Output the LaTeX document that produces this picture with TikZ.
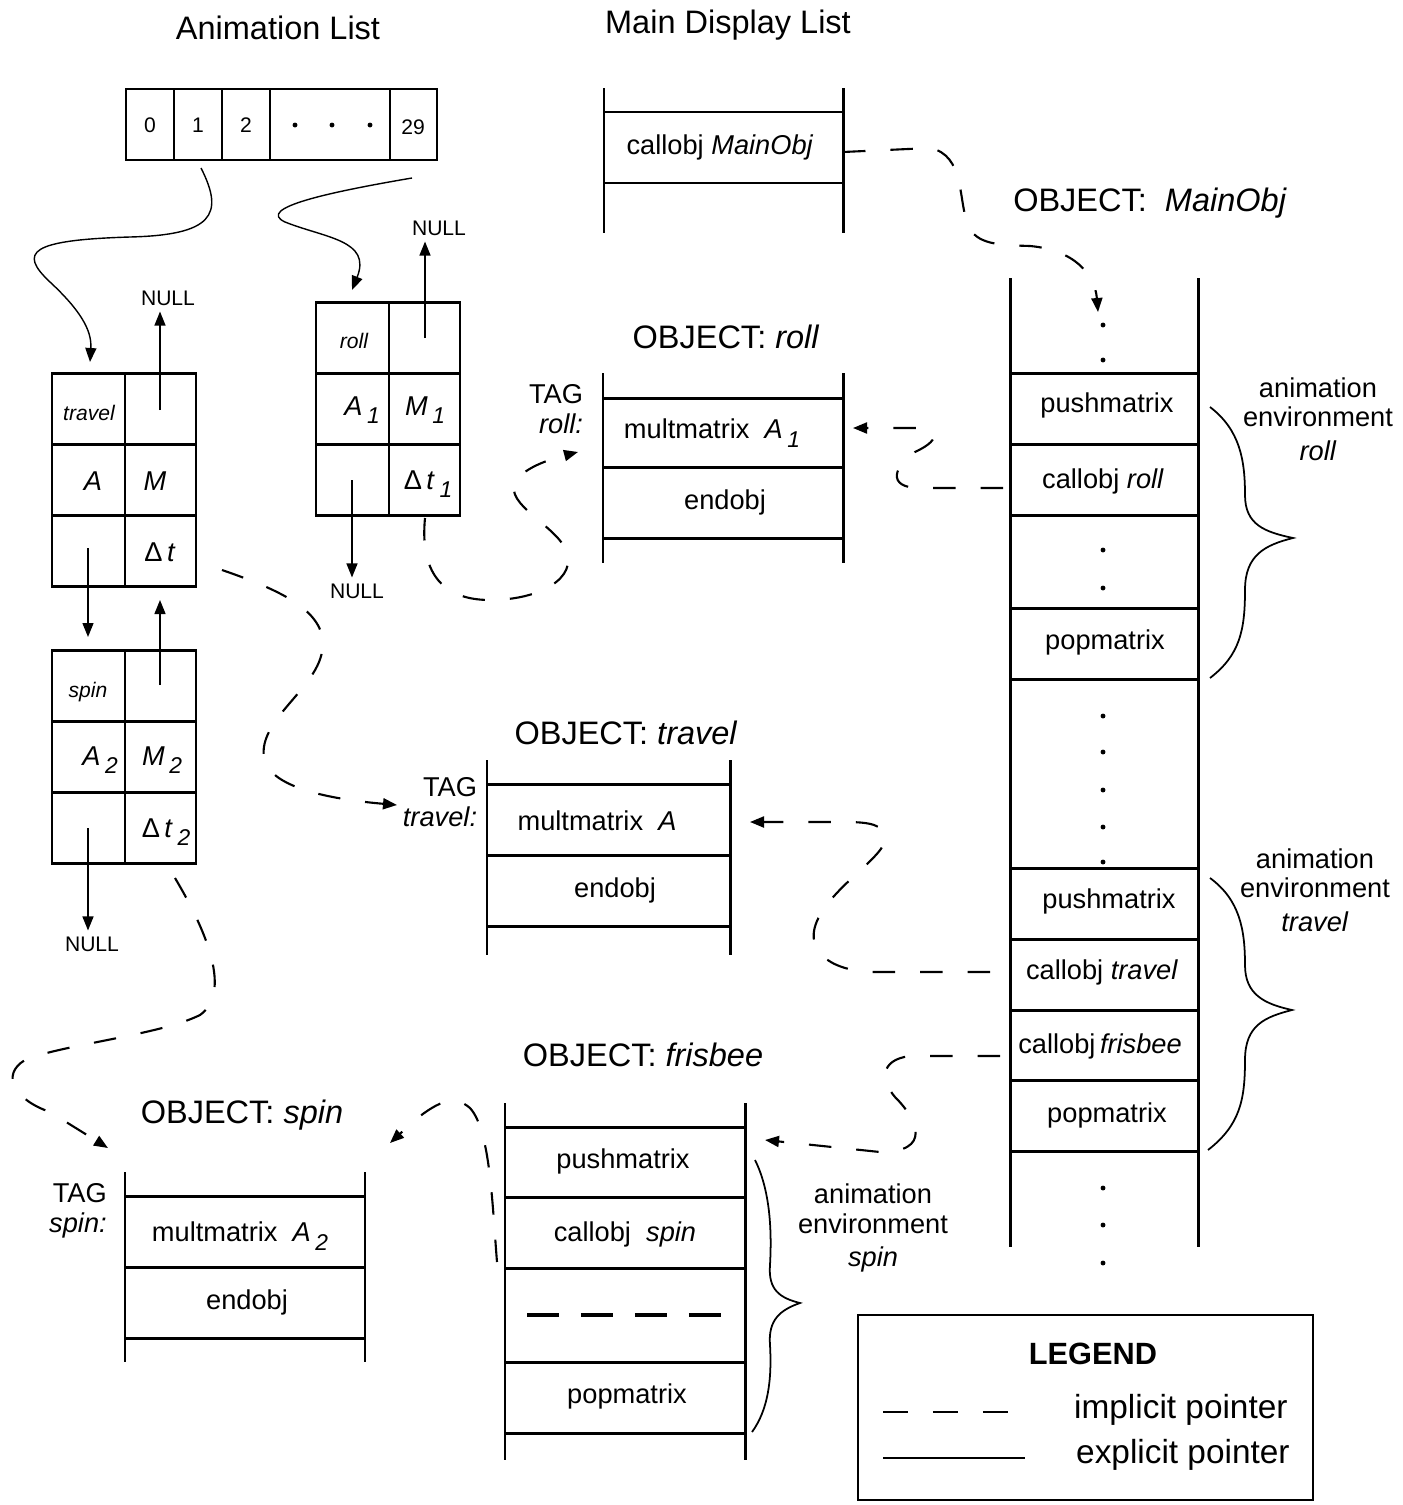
\documentclass[tikz,border=0pt]{standalone}
\usepackage{fontspec}
\setmainfont{Liberation Sans}
\usetikzlibrary{arrows.meta}

\newcommand{\lowsub}[1]{\,\raisebox{-0.6ex}{\fontsize{13}{14}\selectfont #1}}

\tikzset{
  ttl/.style={font=\fontsize{18.5}{20}\selectfont},
  txt/.style={font=\fontsize{15.5}{17}\selectfont},
  sml/.style={font=\fontsize{12}{13}\selectfont},
  sit/.style={font=\fontsize{12}{13}\selectfont\itshape},
  ladder/.style={line width=1.7pt},
  tip/.style={-{Triangle[length=0.28cm,width=0.22cm]}},
  ptr/.style={tip,line width=0.8pt},
  implicit/.style={line width=1.2pt,dash pattern=on 0.45cm off 0.5cm},
  dptr/.style={tip,implicit},
}

\begin{document}
\begin{tikzpicture}[x=0.02cm,y=-0.02cm]
    \useasboundingbox (0,0) rectangle (1403,1505);

    % titles
    \node[ttl] (animtitle) at (278,28) {Animation List};
    \node[ttl] (maintitle) at (728,25) {Main Display List};

    % animation list array
    \draw[ladder] (126,89) rectangle (437,160);
    \foreach \x in {174,222,270,390} \draw[ladder] (\x,89) -- (\x,160);
    \node[sml] (a0) at (150,125) {0};
    \node[sml] (a1) at (198,125) {1};
    \node[sml] (a2) at (246,125) {2};
    \node[sml] (a29) at (413,127) {29};
    \foreach \x in {295,332,370} \fill (\x,125) circle (1.4pt);

    % animation records
    \foreach \x/\y in {52/373, 52/650, 316/302} {
        \draw[ladder] (\x,\y) rectangle ++(144,213);
        \draw[ladder] (\x+73,\y) -- ++(0,213) (\x,\y+71) -- ++(144,0) (\x,\y+142) -- ++(144,0);
    }
    \node[sit] (recT) at (89,413) {travel};
    \node[txt] (recTA) at (93,481) {\textit{A}};
    \node[txt] (recTM) at (155,481) {\textit{M}};
    \node[txt] (recTd) at (160,552) {Δ\,\textit{t}};
    \node[sit] (recS) at (88,692) {spin};
    \node[txt] (recSA) at (100,760) {\textit{A}\lowsub{\textit{2}}};
    \node[txt] (recSM) at (162,760) {\textit{M}\lowsub{\textit{2}}};
    \node[txt] (recSd) at (166,832) {Δ\,\textit{t}\lowsub{\textit{2}}};
    \node[sit] (recR) at (354,341) {roll};
    \node[txt] (recRA) at (362,410) {\textit{A}\lowsub{\textit{1}}};
    \node[txt] (recRM) at (425,410) {\textit{M}\lowsub{\textit{1}}};
    \node[txt] (recRd) at (428,484) {Δ\,\textit{t}\lowsub{\textit{1}}};

    % explicit pointers
    \node[sml] (nullT) at (168,298) {NULL};
    \node[sml] (nullRu) at (439,228) {NULL};
    \node[sml] (nullRd) at (357,591) {NULL};
    \node[sml] (nullS) at (92,944) {NULL};
    \coordinate (tUp) at (160,410);
    \coordinate (tDown) at (88,548);
    \coordinate (sTop) at (88,637);
    \coordinate (sUp) at (160,685);
    \coordinate (tBot) at (160,600);
    \coordinate (sDown) at (88,828);
    \coordinate (rUp) at (425,338);
    \coordinate (rDown) at (352,480);
    \draw[ptr] (tUp) -- (tUp |- nullT.south);
    \draw[ptr] (tDown) -- (sTop);
    \draw[ptr] (sUp) -- (tBot);
    \draw[ptr] (sDown) -- (sDown |- nullS.north);
    \draw[ptr] (rUp) -- (rUp |- nullRu.south);
    \draw[ptr] (rDown) -- (rDown |- nullRd.north);

    \coordinate (slot1) at (201,168);
    \coordinate (slot29) at (412,178);
    \coordinate (recTtop) at (90,362);
    \coordinate (recRtop) at (352,290);
    \draw[ptr] (slot1) .. controls (225,215) and (212,235) .. (130,237)
        .. controls (30,240) and (18,252) .. (50,282)
        .. controls (80,310) and (92,330) .. (recTtop);
    \draw[ptr] (slot29) .. controls (330,192) and (255,208) .. (285,222)
        .. controls (325,238) and (372,240) .. (recRtop);

    % main display list
    \draw[ladder] (604,88) -- (604,233) (843,88) -- (843,233);
    \foreach \y in {112,183} \draw[ladder] (604,\y) -- (843,\y);
    \node[txt] (mainCall) at (720,147) {callobj \textit{MainObj}};

    % OBJECT: MainObj
    \node[ttl] (mainObjT) at (1150,203) {OBJECT:\ \ \textit{MainObj}};
    \draw[ladder] (1010,278) -- (1010,1247) (1198,278) -- (1198,1247);
    \foreach \y in {373,444,515,608,679,868,939,1010,1080,1151}
        \draw[ladder] (1010,\y) -- (1198,\y);
    \foreach \y in {325,360,550,588,716,752,790,827,862,1188,1225,1263}
        \fill (1103,\y) circle (1.4pt);
    \node[txt] (mPush1) at (1107,405) {pushmatrix};
    \node[txt] (mRoll) at (1103,481) {callobj \textit{roll}};
    \node[txt] (mPop1) at (1105,642) {popmatrix};
    \node[txt] (mPush2) at (1109,901) {pushmatrix};
    \node[txt] (mTravel) at (1102,972) {callobj \textit{travel}};
    \node[txt] (mFris) at (1100,1046) {callobj\,\textit{frisbee}};
    \node[txt] (mPop2) at (1107,1115) {popmatrix};

    % braces
    \draw[line width=1pt] (1210,407) .. controls (1240,430) and (1245,460) .. (1245,495)
        .. controls (1245,525) and (1265,532) .. (1293,538)
        .. controls (1265,545) and (1245,555) .. (1245,590)
        .. controls (1245,630) and (1240,655) .. (1210,678);
    \node[txt,align=center] (envRoll) at (1318,419) {animation\\environment\\[2pt]\textit{roll}};
    \draw[line width=1pt] (1210,878) .. controls (1240,900) and (1245,930) .. (1245,965)
        .. controls (1245,995) and (1265,1004) .. (1292,1010)
        .. controls (1265,1017) and (1245,1025) .. (1245,1060)
        .. controls (1245,1100) and (1240,1125) .. (1208,1150);
    \node[txt,align=center] (envTravel) at (1315,890) {animation\\environment\\[2pt]\textit{travel}};

    % OBJECT: roll
    \node[ttl] (rollT) at (726,337) {OBJECT: \textit{roll}};
    \draw[ladder] (603,373) -- (603,563) (843,373) -- (843,563);
    \foreach \y in {398,467,538} \draw[ladder] (603,\y) -- (843,\y);
    \node[txt] (rollMult) at (712,433) {multmatrix\ \ \textit{A}\lowsub{\textit{1}}};
    \node[txt] (rollEnd) at (725,502) {endobj};
    \node[txt,align=right] (rollTag) at (556,409) {TAG\\\textit{roll:}};

    % OBJECT: travel
    \node[ttl] (travelT) at (626,733) {OBJECT: \textit{travel}};
    \draw[ladder] (487,760) -- (487,955) (730,760) -- (730,955);
    \foreach \y in {784,855,926} \draw[ladder] (487,\y) -- (730,\y);
    \node[txt] (travelMult) at (597,821) {multmatrix\ \ \textit{A}};
    \node[txt] (travelEnd) at (615,890) {endobj};
    \node[txt,align=right] (travelTag) at (440,802) {TAG\\\textit{travel:}};

    % OBJECT: frisbee
    \node[ttl] (frisT) at (643,1055) {OBJECT: \textit{frisbee}};
    \draw[ladder] (505,1103) -- (505,1460) (745,1103) -- (745,1460);
    \foreach \y in {1127,1197,1268,1362,1433} \draw[ladder] (505,\y) -- (745,\y);
    \node[txt] (fPush) at (623,1161) {pushmatrix};
    \node[txt] (fSpin) at (625,1234) {callobj\ \ \textit{spin}};
    \draw[line width=2pt,dash pattern=on 0.64cm off 0.44cm] (527,1315) -- (722,1315);
    \node[txt] (fPop) at (627,1396) {popmatrix};
    \draw[line width=1pt] (755,1160) .. controls (770,1190) and (772,1230) .. (770,1265)
        .. controls (768,1290) and (780,1298) .. (800,1303)
        .. controls (780,1310) and (768,1320) .. (770,1345)
        .. controls (772,1380) and (768,1410) .. (752,1432);
    \node[txt,align=center] (envSpin) at (873,1228) {animation\\environment\\[2pt]\textit{spin}};

    % OBJECT: spin
    \node[ttl] (spinT) at (242,1115) {OBJECT: \textit{spin}};
    \draw[ladder] (125,1172) -- (125,1362) (365,1172) -- (365,1362);
    \foreach \y in {1196,1267,1338} \draw[ladder] (125,\y) -- (365,\y);
    \node[txt] (spinMult) at (240,1236) {multmatrix\ \ \textit{A}\lowsub{\textit{2}}};
    \node[txt] (spinEnd) at (247,1302) {endobj};
    \node[txt,align=right] (spinTag) at (78,1211) {TAG\\\textit{spin:}};

    % implicit pointers
    \coordinate (mainR) at (843,152);
    \coordinate (mainIn) at (1098,312);
    \draw[dptr] (mainR) -- (930,148)
        .. controls (965,155) and (958,200) .. (968,225)
        .. controls (976,245) and (1000,245) .. (1030,246)
        .. controls (1075,250) and (1095,275) .. (mainIn);

    \coordinate (mRollL) at (1003,488);
    \coordinate (rollMultR) at (853,428);
    \draw[dptr] (mRollL) -- (920,488)
        .. controls (885,488) and (895,465) .. (915,452)
        .. controls (945,438) and (935,428) .. (915,428) -- (rollMultR);

    \coordinate (rDt) at (425,518);
    \coordinate (rollIn) at (578,452);
    \draw[dptr] (rDt) .. controls (420,570) and (440,600) .. (490,600)
        .. controls (540,600) and (578,578) .. (566,550)
        .. controls (555,525) and (505,505) .. (515,482)
        .. controls (525,466) and (555,458) .. (rollIn);

    \coordinate (tDt) at (222,570);
    \coordinate (travelIn) at (397,805);
    \draw[dptr] (tDt) .. controls (280,590) and (330,612) .. (322,652)
        .. controls (315,690) and (258,720) .. (264,758)
        .. controls (270,790) and (340,800) .. (travelIn);

    \coordinate (mTravelL) at (990,972);
    \coordinate (travelMultR) at (750,822);
    \draw[dptr] (mTravelL) -- (870,972)
        .. controls (830,970) and (800,950) .. (820,915)
        .. controls (840,880) and (892,852) .. (885,834)
        .. controls (880,822) and (860,822) .. (840,822) -- (travelMultR);

    \coordinate (mFrisL) at (1000,1056);
    \coordinate (frisIn) at (765,1140);
    \draw[dptr] (mFrisL) -- (910,1056)
        .. controls (878,1060) and (882,1082) .. (895,1097)
        .. controls (918,1120) and (932,1152) .. (880,1152) -- (frisIn);

    \coordinate (fSpinL) at (497,1262);
    \coordinate (spinInR) at (390,1143);
    \draw[dptr] (fSpinL) .. controls (492,1200) and (490,1130) .. (470,1108)
        .. controls (455,1095) and (440,1100) .. (415,1120) -- (spinInR);

    \coordinate (sDt) at (175,878);
    \coordinate (spinInL) at (108,1148);
    \draw[dptr] (sDt) .. controls (200,920) and (235,990) .. (200,1015)
        .. controls (160,1035) and (60,1045) .. (25,1060)
        .. controls (0,1075) and (15,1100) .. (50,1112) -- (spinInL);

    % legend
    \draw[line width=1.1pt] (858,1315) rectangle (1313,1500);
    \node[font=\fontsize{17.5}{19}\selectfont\bfseries] (legT) at (1093,1354) {LEGEND};
    \coordinate (legA) at (883,1412);
    \coordinate (legB) at (1025,1412);
    \coordinate (legC) at (883,1458);
    \coordinate (legD) at (1025,1458);
    \draw[line width=1pt,dash pattern=on 0.5cm off 0.5cm] (legA) -- (legB);
    \draw[line width=1pt] (legC) -- (legD);
    \node[font=\fontsize{19}{21}\selectfont,anchor=west] (legImp) at (1068,1410) {implicit pointer};
    \node[font=\fontsize{19}{21}\selectfont,anchor=west] (legExp) at (1070,1455) {explicit pointer};
\end{tikzpicture}
\end{document}
